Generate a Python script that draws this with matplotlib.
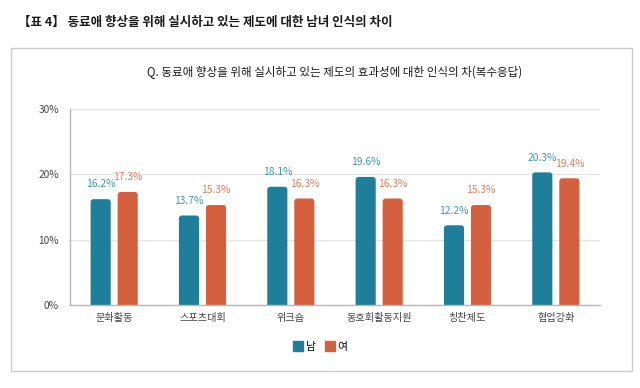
import matplotlib
matplotlib.use("Agg")
import matplotlib.pyplot as plt
from matplotlib.lines import Line2D
from matplotlib.patches import Rectangle, FancyBboxPatch
import numpy as np

plt.rcParams["font.family"] = ["Noto Sans CJK KR", "DejaVu Sans"]

# 데이터
categories = ["문화활동", "스포츠대회", "위크숍", "동호회활동지원", "칭찬제도", "협업강화"]
male = [16.2, 13.7, 18.1, 19.6, 12.2, 20.3]
female = [17.3, 15.3, 16.3, 16.3, 15.3, 19.4]
yticks = [0, 10, 20, 30]

C = {"teal": "#1f7f9a", "orange": "#d4603f",
     "teal_txt": "#3f97ad", "orange_txt": "#e07b5c",
     "ink": "#1a1a1a", "ink2": "#444444", "grid": "#e4e4e4",
     "axis": "#b8b8b8", "frame": "#cccccc"}

fig = plt.figure(figsize=(6.4, 3.88), dpi=100)
fig.patch.set_facecolor("white")

# 외곽 박스
fig.add_artist(Rectangle((11 / 640, 1 - 371 / 388), 621 / 640, 323 / 388,
                         transform=fig.transFigure, fill=False,
                         edgecolor=C["frame"], linewidth=1.0))

fig.text(18 / 640, 1 - 22 / 388,
         "【표 4】 동료애 향상을 위해 실시하고 있는 제도에 대한 남녀 인식의 차이",
         fontsize=9.0, fontweight="bold", color=C["ink"], va="center", ha="left")
fig.text(335 / 640, 1 - 72 / 388,
         "Q. 동료애 향상을 위해 실시하고 있는 제도의 효과성에 대한 인식의 차(복수응답)",
         fontsize=8.3, color=C["ink"], va="center", ha="center")

ax = fig.add_axes([70 / 640, 1 - 305 / 388, 530 / 640, 196 / 388])
ax.set_xlim(-0.5, len(categories) - 0.5)
ax.set_ylim(0, 30)
x = np.arange(len(categories))
off = 0.153
w = 0.228

# 둥근 모서리 막대: bar 위치를 받아 FancyBboxPatch로 그림
px_x = 530 / len(categories)   # x 1단위 픽셀
px_y = 196 / 30                 # y 1단위 픽셀
r = 3.0 / px_x
aspect = (3.0 / px_y) / r
for vals, dx, col, tcol in ((male, -off, C["teal"], C["teal_txt"]),
                            (female, off, C["orange"], C["orange_txt"])):
    bars = ax.bar(x + dx, vals, w, color="none", edgecolor="none")
    for b, v in zip(bars, vals):
        ax.add_patch(FancyBboxPatch((b.get_x(), -2), b.get_width(), v + 2,
                                    boxstyle=f"round,pad=0,rounding_size={r}",
                                    mutation_aspect=aspect, facecolor=col,
                                    edgecolor="none", zorder=3))
        ax.annotate(f"{v:.1f}%", (b.get_x() + b.get_width() / 2, v),
                    xytext=(0, 7), textcoords="offset points",
                    ha="center", va="bottom", fontsize=7.4, color=tcol)

ax.set_yticks(yticks, [f"{t}%" for t in yticks])
ax.set_xticks(x, categories)
ax.tick_params(axis="both", length=0, labelsize=7.3, colors=C["ink2"])
ax.tick_params(axis="y", pad=8)
ax.tick_params(axis="x", pad=6)
ax.grid(axis="y", color=C["grid"], linewidth=0.9)
ax.set_axisbelow(True)
for s in ("top", "right"):
    ax.spines[s].set_visible(False)
for s in ("left", "bottom"):
    ax.spines[s].set_color(C["axis"])
    ax.spines[s].set_linewidth(1.0)
ax.spines["bottom"].set_zorder(4)

handles = [Line2D([], [], marker="s", linestyle="", markersize=7,
                  color=C["teal"], label="남"),
           Line2D([], [], marker="s", linestyle="", markersize=7,
                  color=C["orange"], label="여")]
fig.legend(handles=handles, loc="center", bbox_to_anchor=(320 / 640, 1 - 347 / 388),
           ncol=2, frameon=False, fontsize=7.8, handletextpad=0.2,
           columnspacing=0.8, handlelength=1.0)

fig.savefig("out.png", dpi=100, facecolor="white")
